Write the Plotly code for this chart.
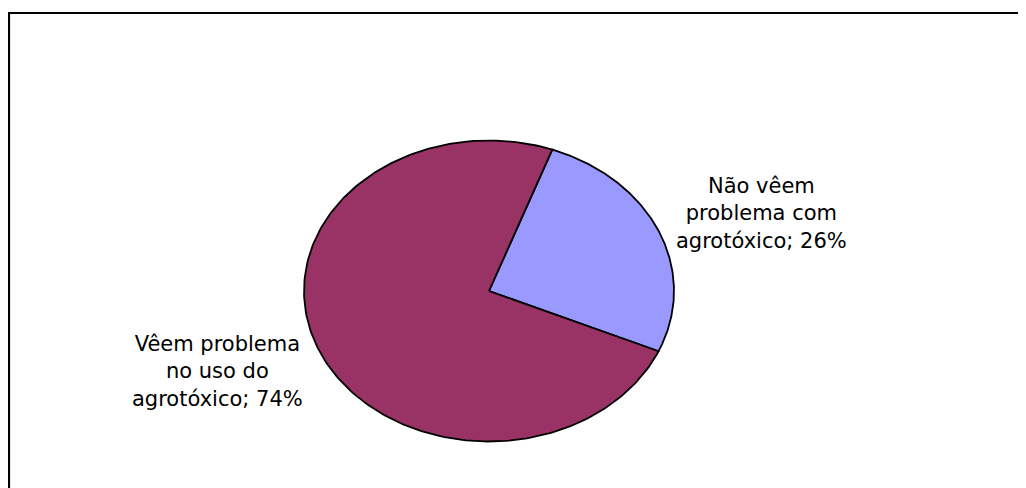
import numpy as np
import plotly.graph_objects as go

# ---- data ----
labels = ["Não vêem<br>problema com<br>agrotóxico", "Vêem problema<br>no uso do<br>agrotóxico"]
values = [26, 74]
colors = ["#9999FF", "#993366"]

# ---- geometry (page-pixel layout; the page body adds an 8px margin) ----
PAGE_W, PAGE_H = 1026, 488
OFF = 8
W, H = PAGE_W - OFF, PAGE_H - OFF
cx, cy = 489, 291
rx, ry = 185, 150.5
start_deg = 20.0  # clockwise from 12 o'clock

fig = go.Figure()
total = float(sum(values))
ang = start_deg
for lab, v, col in zip(labels, values, colors):
    span = 360.0 * v / total
    th = np.radians(np.linspace(ang, ang + span, 240))
    xs = np.concatenate([[cx], cx + rx * np.sin(th), [cx]])
    ys = np.concatenate([[cy], cy - ry * np.cos(th), [cy]])
    fig.add_trace(go.Scatter(x=xs, y=ys, mode="lines", fill="toself",
                             fillcolor=col, line=dict(color="black", width=1.8),
                             hoverinfo="skip", showlegend=False))
    ang += span

label_pos = [(761, 213), (217, 371)]
for lab, v, (lx, ly) in zip(labels, values, label_pos):
    fig.add_annotation(x=lx, y=ly, xref="x", yref="y", text=f"{lab}; {v}%",
                       showarrow=False, align="center", xanchor="center", yanchor="middle",
                       font=dict(family="DejaVu Sans", size=21, color="black"))

fig.add_shape(type="rect", xref="x", yref="y", x0=9, y0=13, x1=1060, y1=520,
              line=dict(color="black", width=2.2), fillcolor="rgba(0,0,0,0)")

fig.update_xaxes(range=[OFF, PAGE_W], visible=False, fixedrange=True)
fig.update_yaxes(range=[PAGE_H, OFF], visible=False, fixedrange=True)
fig.update_layout(width=W, height=H, margin=dict(l=0, r=0, t=0, b=0),
                  paper_bgcolor="white", plot_bgcolor="white", showlegend=False)

fig.write_html("out.html")
